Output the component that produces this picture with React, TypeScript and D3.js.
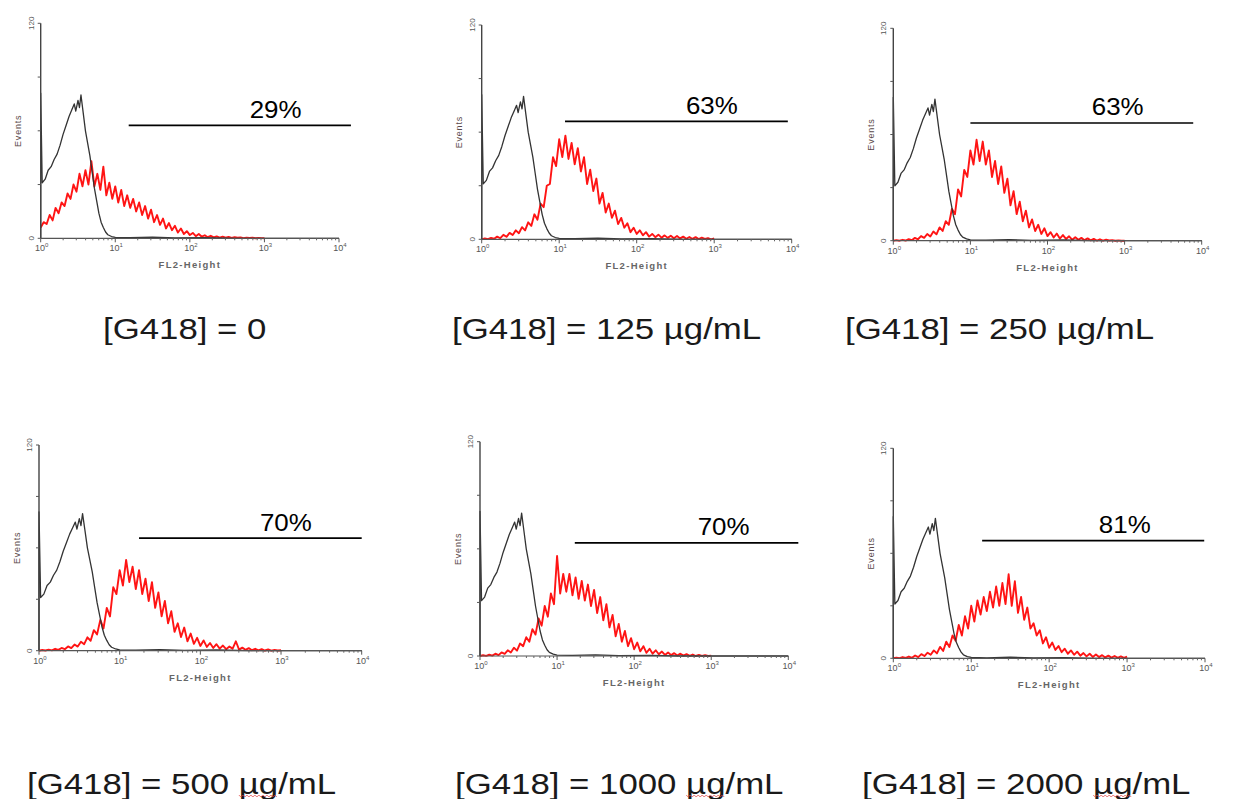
import React from 'react';
import * as d3 from 'd3';

// ---------------- DATA ----------------
const captions = [
  '[G418] = 0',
  '[G418] = 125 µg/mL',
  '[G418] = 250 µg/mL',
  '[G418] = 500 µg/mL',
  '[G418] = 1000 µg/mL',
  '[G418] = 2000 µg/mL',
];
const gatePercents = ['29%', '63%', '63%', '70%', '70%', '81%'];
// gate marker, in decades of FL2-Height (log10), and its height in events
const gateStartLog = [1.18, 1.075, 1.0, 1.24, 1.23, 1.14];
const gateEndLog = [4.16, 3.95, 3.89, 4.0, 4.13, 3.99];
const gateLevel = [63, 66, 66.5, 65.7, 63.4, 67.2];

const xExponents = ['0', '1', '2', '3', '4'];
const yTickValues = [0, 30, 60, 90, 120];
const yMax = 120;

// stained (red) histograms, one count per 0.04-decade channel starting at 10^0
const binStepLog = 0.04;
const red0 = [6, 9, 8, 13, 10, 17, 14, 20, 18, 25, 22, 30, 26, 36, 29, 38, 30, 43, 29, 36, 27, 40, 24, 31, 22, 29, 20, 27, 18, 24, 17, 22, 15, 20, 13, 18, 11, 16, 9, 13, 7.5, 11, 5.5, 8.5, 4.5, 7, 3.2, 5.5, 2.4, 4, 1.8, 3, 1.2, 2.4, 0.9, 1.7, 0.6, 1.4, 0.5, 1.1, 0.4, 0.9, 0.3, 0.8, 0.2, 0.6, 0.3, 0.5, 0.1, 0.4, 0.2, 0.3, 0, 0.2, 0.1, 0];
const red125 = [0, 0.5, 0.1, 0.8, 0.3, 1.5, 0.6, 2.5, 1.4, 3.6, 2.4, 5, 3.4, 6.8, 5, 9.5, 7.5, 14, 11, 20, 18, 30, 31, 46, 41, 56, 46, 58, 45, 54, 42, 51, 38, 46, 31, 39, 27, 34, 20, 26, 15, 20, 12, 16, 8.5, 12, 6.5, 9, 4, 6.5, 3, 5, 2.2, 4, 1.5, 3, 1.2, 2.6, 0.9, 2.2, 0.8, 2, 0.6, 1.8, 0.5, 1.5, 0.3, 1.3, 0.2, 1.2, 0.1, 0.9, 0.2, 0.7, 0, 0.5];
const red250 = [0, 0.3, 0, 0.5, 0.1, 0.9, 0.3, 1.6, 0.8, 2.6, 1.6, 3.8, 2.4, 5.2, 3.6, 7.5, 5.5, 11, 9, 18, 15, 29, 25, 40, 36, 51, 43, 57, 45, 56, 43, 51, 36, 45, 32, 42, 27, 35, 20, 28, 15, 22, 11, 17, 7.5, 12, 5.5, 9, 3.8, 7, 2.6, 4.8, 1.8, 4, 1.2, 3.2, 1, 2.5, 0.6, 2, 0.5, 1.6, 0.3, 1.3, 0.2, 1, 0.1, 0.8, 0, 0.6, 0.1, 0.3, 0, 0.2, 0, 0];
const red500 = [0, 0.4, 0.1, 0.6, 0.2, 1.1, 0.5, 1.6, 0.9, 2.5, 1.5, 3.6, 2.4, 5.2, 3.8, 7.8, 5.8, 12, 9.5, 18, 13, 25, 20, 37, 33, 47, 38, 53, 40, 49, 36, 47, 33, 42, 29, 40, 25, 34, 20, 29, 16, 23, 11, 16, 8, 13.5, 5.5, 10, 4, 7.5, 2.8, 6, 2.2, 4.5, 1.6, 3.8, 1.2, 3, 0.9, 2.4, 1.2, 5.5, 0.6, 1.8, 0.5, 1.5, 0.3, 1.1, 0.2, 0.9, 0.1, 0.7, 0, 0.5, 0.1, 0.3];
const red1000 = [0, 0.4, 0.1, 0.7, 0.2, 1.3, 0.5, 2, 1.2, 3.2, 2, 4.6, 3, 7, 5.5, 10.5, 8, 15, 12, 21, 17, 28, 22, 35, 29, 56, 35, 46, 36, 46, 34, 44, 32, 42, 31, 40, 28, 37, 24, 33, 20, 29, 16, 23, 11, 18, 8, 14, 5.5, 10, 3.8, 7.5, 2.6, 5.5, 1.8, 4, 1.3, 3.2, 1, 2.5, 0.6, 2, 0.5, 1.6, 0.3, 1.3, 0.2, 1, 0.1, 0.8, 0, 0.6, 0.1, 0.4, 0, 0.2];
const red2000 = [0, 0.4, 0.1, 0.7, 0.2, 1, 0.3, 1.6, 0.7, 2.4, 1.3, 3.2, 2, 4.5, 2.8, 6.5, 4.2, 9.5, 6.5, 13, 10, 19, 13, 24, 17, 30, 21, 33, 25, 35, 27, 38, 29, 41, 30, 43, 31, 48, 30, 44, 26, 35, 22, 29, 17, 20, 13, 16, 8.5, 12, 6, 9, 4.8, 7, 3.5, 5.5, 2.6, 4.5, 2, 3.8, 1.5, 3, 1.1, 2.6, 0.8, 2.2, 0.7, 1.8, 0.5, 1.5, 0.4, 1.3, 0.3, 1.1, 0.2, 1];
const redSeries = [red0, red125, red250, red500, red1000, red2000];

// unstained control (black) histogram: channel position (decades) and events
const controlLog = [0, 0, 0.02, 0.06, 0.1, 0.14, 0.18, 0.22, 0.26, 0.3, 0.34, 0.38, 0.42, 0.45, 0.47, 0.5, 0.52, 0.54, 0.57, 0.6, 0.63, 0.66, 0.69, 0.72, 0.75, 0.78, 0.81, 0.84, 0.87, 0.9, 0.95, 1.0, 1.2, 1.5, 1.8, 2.2, 2.6, 4];
const controlCounts = [0, 81, 31, 33, 38, 40, 44, 47, 52, 58, 63, 68, 72, 75, 71, 77, 73, 80, 70, 60, 53, 46, 37, 28, 21, 14, 9, 6, 3.5, 2, 1, 0.5, 0.3, 0.6, 0.2, 0.4, 0, 0];

// ---------------- LAYOUT ----------------
const frames = [
  { x0: 40.7, x1: 339, yTop: 23.3, yZero: 238.3, labelLog: 3.15, capX: 103, capY: 339, squiggle: false },
  { x0: 481.7, x1: 791.7, yTop: 25, yZero: 239.3, labelLog: 2.97, capX: 452, capY: 339, squiggle: false },
  { x0: 893.3, x1: 1201.7, yTop: 28.3, yZero: 240.7, labelLog: 2.91, capX: 845, capY: 339, squiggle: false },
  { x0: 39, x1: 361.7, yTop: 445, yZero: 650.7, labelLog: 3.06, capX: 27, capY: 794, squiggle: true },
  { x0: 480, x1: 788.3, yTop: 441.7, yZero: 656, labelLog: 3.16, capX: 455, capY: 794, squiggle: true },
  { x0: 893.3, x1: 1205, yTop: 448.3, yZero: 658.3, labelLog: 2.97, capX: 862, capY: 794, squiggle: true },
];

const FONT = "'Liberation Sans', Arial, Helvetica, sans-serif";
const CAP_SIZE = 29;
const CAP_SX = 1.2;

let measureCtx: CanvasRenderingContext2D | null = null;
function measure(text: string, size: number): number {
  if (!measureCtx) {
    const c = document.createElement('canvas');
    measureCtx = c.getContext('2d');
  }
  if (!measureCtx) return text.length * size * 0.55;
  measureCtx.font = `${size}px 'Liberation Sans', Arial, sans-serif`;
  return measureCtx.measureText(text).width;
}

function Panel({ i }: { i: number }) {
  const f = frames[i];
  const x = d3.scaleLog().domain([1, 1e4]).range([f.x0, f.x1]);
  const y = d3.scaleLinear().domain([0, yMax]).range([f.yZero, f.yTop]);

  const red = redSeries[i];
  const redPath = d3
    .line<number>()
    .x((_, k) => x(Math.pow(10, k * binStepLog)))
    .y((v) => y(v))(red) as string;

  const ctrlPath = d3
    .line<number>()
    .x((_, k) => x(Math.pow(10, controlLog[k])))
    .y((v) => y(v))(controlCounts) as string;

  const majors = xExponents.map((e) => Math.pow(10, +e));
  const minors: number[] = [];
  for (let d = 0; d < 4; d++) for (let m = 2; m <= 9; m++) minors.push(m * Math.pow(10, d));

  const gy = y(gateLevel[i]);
  const gx0 = x(Math.pow(10, gateStartLog[i]));
  const gx1 = x(Math.pow(10, gateEndLog[i]));
  const lx = x(Math.pow(10, f.labelLog));
  const midY = (f.yTop + f.yZero) / 2;
  const midX = (f.x0 + f.x1) / 2;

  // spell-check squiggle under "µg"
  let squigglePath: string | null = null;
  if (f.squiggle) {
    const cap = captions[i];
    const idx = cap.indexOf('µg');
    const sx = f.capX + measure(cap.slice(0, idx), CAP_SIZE) * CAP_SX;
    const w = measure('µg', CAP_SIZE) * CAP_SX;
    const pts: [number, number][] = [];
    for (let t = 0; t <= w; t += 2) pts.push([sx + t, f.capY + 2 + (Math.round(t / 2) % 2 === 0 ? -1 : 1)]);
    squigglePath = d3.line()(pts);
  }

  return (
    <g>
      {/* histograms */}
      <path d={redPath} fill="none" stroke="#ff1414" strokeWidth={1.9} strokeLinejoin="round" />
      <path d={ctrlPath} fill="none" stroke="#333" strokeWidth={1.3} strokeLinejoin="round" />

      {/* y axis */}
      <line x1={f.x0} x2={f.x0} y1={y(yMax)} y2={y(0)} stroke="#444" strokeWidth={1.4} />
      {yTickValues.map((v) => (
        <line key={v} x1={f.x0 - 3} x2={f.x0} y1={y(v)} y2={y(v)} stroke="#555" strokeWidth={1} />
      ))}
      <text
        transform={`translate(${f.x0 - 7},${y(yMax)}) rotate(-90)`}
        textAnchor="middle"
        fontSize={8}
        fill="#555"
        fontFamily={FONT}
      >
        {yMax}
      </text>
      <text
        transform={`translate(${f.x0 - 7},${y(0)}) rotate(-90)`}
        textAnchor="middle"
        fontSize={8}
        fill="#555"
        fontFamily={FONT}
      >
        0
      </text>
      <text
        transform={`translate(${f.x0 - 19.5},${midY}) rotate(-90)`}
        textAnchor="middle"
        fontSize={9}
        letterSpacing={0.8}
        fill="#5a4a4a"
        fontFamily={FONT}
      >
        Events
      </text>

      {/* x axis */}
      <line x1={f.x0} x2={f.x1} y1={f.yZero} y2={f.yZero} stroke="#555" strokeWidth={1.2} />
      {minors.map((m) => (
        <line key={m} x1={x(m)} x2={x(m)} y1={f.yZero} y2={f.yZero + 2} stroke="#666" strokeWidth={1} />
      ))}
      {majors.map((m, k) => (
        <g key={m}>
          <line x1={x(m)} x2={x(m)} y1={f.yZero} y2={f.yZero + 4} stroke="#555" strokeWidth={1} />
          <text x={x(m) + 1} y={f.yZero + 13} textAnchor="middle" fontSize={9} fill="#555" fontFamily={FONT}>
            10
            <tspan dy={-4} fontSize={6}>
              {xExponents[k]}
            </tspan>
          </text>
        </g>
      ))}
      <text
        x={midX}
        y={f.yZero + 30}
        textAnchor="middle"
        fontSize={9.5}
        fontWeight="bold"
        letterSpacing={1.3}
        fill="#666"
        fontFamily={FONT}
      >
        FL2-Height
      </text>

      {/* gate marker */}
      <line x1={gx0} x2={gx1} y1={gy} y2={gy} stroke="#000" strokeWidth={1.7} />
      <text
        transform={`translate(${lx},${gy - 7.5}) scale(1.08,1)`}
        textAnchor="middle"
        fontSize={24}
        fill="#000"
        fontFamily={FONT}
      >
        {gatePercents[i]}
      </text>

      {/* caption */}
      <text
        transform={`translate(${f.capX},${f.capY}) scale(${CAP_SX},1)`}
        fontSize={CAP_SIZE}
        fill="#1a1a1a"
        fontFamily={FONT}
      >
        {captions[i]}
      </text>
      {squigglePath && (
        <path d={squigglePath} fill="none" stroke="#e04040" strokeWidth={0.9} opacity={0.8} />
      )}
    </g>
  );
}

export default function App() {
  return (
    <svg
      width={1236}
      height={799}
      style={{ position: 'absolute', left: 0, top: 0, background: '#fff' }}
    >
      <rect x={0} y={0} width={1236} height={799} fill="#fff" />
      {frames.map((_, i) => (
        <Panel key={i} i={i} />
      ))}
    </svg>
  );
}
